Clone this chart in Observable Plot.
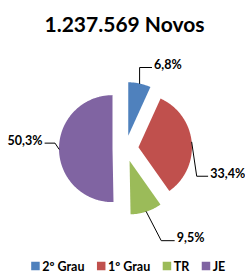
<!DOCTYPE html>
<html><head><meta charset="utf-8">
<script src="https://cdn.jsdelivr.net/npm/d3@7"></script>
<script src="https://cdn.jsdelivr.net/npm/@observablehq/plot@0.6"></script>
<style>html,body{margin:0;padding:0;background:#fff;overflow:hidden}</style>
</head><body><div id="chart"></div>
<script>
const categories = ["2º Grau", "1º Grau", "TR", "JE"];
const values = [6.8, 33.4, 9.5, 50.3];
const valueLabels = ["6,8%", "33,4%", "9,5%", "50,3%"];
const colors = ["#4F81BD", "#C0504D", "#9BBB59", "#8064A2"];
const title = "1.237.569 Novos";

const W = 245, H = 275;
const FONT = "Lato, 'Open Sans', sans-serif";
const cx = 125, cy = 148, R = 53.5, EX = 13;
// leader layout: elbow and end offsets relative to arc point
const leaderLayout = [
  {e: [0, -16], f: [12, -16], anchor: "start"},
  {e: [5, 34], f: [16, 34], anchor: "start"},
  {e: [15, 29], f: [28, 29], anchor: "start"},
  {e: [-4, -6], f: [-14, -6], anchor: "end"}
];

const arcs = d3.pie().sort(null).value(d => d.value)(
  categories.map((c, i) => ({c, value: values[i], i}))
);

const pts = [];
const leaders = [];
const labelPts = [];
arcs.forEach((a, i) => {
  const mid = (a.startAngle + a.endAngle) / 2;
  const ox = cx + EX * Math.sin(mid), oy = cy - EX * Math.cos(mid);
  pts.push({c: a.data.c, x: ox, y: oy});
  const n = Math.max(6, Math.ceil((a.endAngle - a.startAngle) * 80));
  for (let k = 0; k <= n; k++) {
    const t = a.startAngle + (a.endAngle - a.startAngle) * k / n;
    pts.push({c: a.data.c, x: ox + R * Math.sin(t), y: oy - R * Math.cos(t)});
  }
  pts.push({c: a.data.c, x: ox, y: oy});
  const px = ox + R * Math.sin(mid), py = oy - R * Math.cos(mid);
  const L = leaderLayout[i];
  leaders.push({c: a.data.c, x: px, y: py});
  leaders.push({c: a.data.c, x: px + L.e[0], y: py + L.e[1]});
  leaders.push({c: a.data.c, x: px + L.f[0], y: py + L.f[1]});
  labelPts.push({text: valueLabels[i], x: px + L.f[0] + (L.anchor === "start" ? 2.5 : -2.5), y: py + L.f[1] - 2.5, anchor: L.anchor});
});

// legend layout measured from text
const LFS = 12.5;
const ctx = document.createElement("canvas").getContext("2d");
ctx.font = "bold " + LFS + "px " + FONT;
const sq = 8.5, gap = 2, spacing = 13;
const itemW = categories.map(c => sq + gap + ctx.measureText(c).width);
const totalW = d3.sum(itemW) + spacing * (categories.length - 1);
let lx = 128 - totalW / 2;
const legendItems = categories.map((c, i) => {
  const it = {c, x1: lx, x2: lx + sq, tx: lx + sq + gap};
  lx += itemW[i] + spacing;
  return it;
});
const legendY = 266;

const labelStyle = {x: "x", y: "y", text: "text", lineAnchor: "middle", fontSize: 12.5, fontWeight: "bold", fill: "#000"};

const chart = Plot.plot({
  width: W, height: H,
  margin: 0,
  style: {fontFamily: FONT, background: "#fff", overflow: "visible"},
  x: {domain: [0, W], range: [0, W], axis: null},
  y: {domain: [0, H], range: [0, H], axis: null},
  color: {domain: categories, range: colors},
  marks: [
    Plot.line(pts, {x: "x", y: "y", z: "c", fill: "c", stroke: null, curve: "linear"}),
    Plot.line(leaders, {x: "x", y: "y", z: "c", stroke: "#000", strokeWidth: 1, curve: "linear"}),
    Plot.text(labelPts.filter(d => d.anchor === "start"), {...labelStyle, textAnchor: "start"}),
    Plot.text(labelPts.filter(d => d.anchor === "end"), {...labelStyle, textAnchor: "end"}),
    Plot.text([title], {x: [124], y: [24.5], text: d => d, fontSize: 21, fontWeight: "bold", fill: "#000", lineAnchor: "middle"}),
    Plot.rect(legendItems, {x1: "x1", x2: "x2", y1: legendY - sq / 2, y2: legendY + sq / 2, fill: "c"}),
    Plot.text(legendItems, {x: "tx", y: legendY, text: "c", textAnchor: "start", lineAnchor: "middle", fontSize: LFS, fontWeight: "bold", fill: "#000"})
  ]
});
document.getElementById("chart").appendChild(chart);
</script>
</body></html>
